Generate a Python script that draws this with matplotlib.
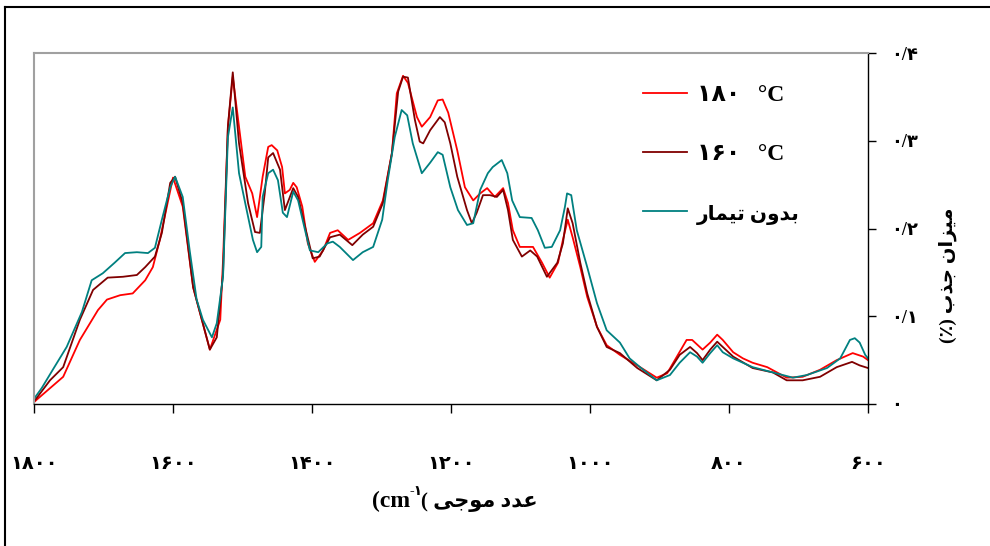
import matplotlib
matplotlib.use("Agg")
import matplotlib.pyplot as plt
from matplotlib.lines import Line2D

plt.rcParams["font.family"] = ["Liberation Serif", "DejaVu Sans"]
plt.rcParams["font.weight"] = "bold"

# ----------------------------
# Data
# ----------------------------
wn_180 = [1800, 1796, 1758, 1734, 1708, 1695, 1676, 1658, 1640, 1629, 1619, 1600, 1586, 1571,
          1547, 1532, 1528, 1521, 1514, 1496, 1486, 1479, 1471, 1463, 1458, 1450, 1443, 1439,
          1432, 1427, 1422, 1414, 1406, 1396, 1384, 1374, 1363, 1348, 1331, 1312, 1298, 1285,
          1278, 1269, 1262, 1249, 1242, 1230, 1219, 1212, 1204, 1191, 1180, 1168, 1158, 1148,
          1137, 1125, 1118, 1111, 1101, 1082, 1069, 1058, 1046, 1039, 1032, 1025, 1014, 1004,
          990, 976, 957, 932, 904, 889, 875, 861, 853, 838, 827, 817, 809, 794, 780, 766, 745,
          717, 694, 669, 645, 622, 607, 600]
ab_180 = [0.002, 0.005, 0.031, 0.073, 0.107, 0.119, 0.124, 0.126, 0.141, 0.156, 0.187, 0.258,
          0.225, 0.133, 0.062, 0.096, 0.164, 0.316, 0.373, 0.259, 0.240, 0.213, 0.259, 0.293,
          0.295, 0.289, 0.270, 0.240, 0.244, 0.252, 0.247, 0.225, 0.183, 0.162, 0.175, 0.195,
          0.198, 0.187, 0.195, 0.206, 0.232, 0.286, 0.354, 0.374, 0.366, 0.327, 0.316, 0.327,
          0.346, 0.347, 0.332, 0.289, 0.247, 0.232, 0.240, 0.246, 0.236, 0.246, 0.229, 0.198,
          0.179, 0.179, 0.161, 0.144, 0.161, 0.187, 0.210, 0.190, 0.156, 0.122, 0.088, 0.067,
          0.056, 0.044, 0.030, 0.035, 0.054, 0.073, 0.073, 0.062, 0.070, 0.079, 0.073, 0.059,
          0.052, 0.047, 0.042, 0.030, 0.031, 0.039, 0.050, 0.058, 0.054, 0.050]

wn_160 = [1800, 1796, 1777, 1758, 1734, 1715, 1694, 1672, 1652, 1640, 1626, 1616, 1604, 1597,
          1586, 1571, 1547, 1537, 1528, 1521, 1514, 1505, 1492, 1482, 1475, 1468, 1463, 1456,
          1446, 1439, 1427, 1420, 1410, 1399, 1389, 1374, 1360, 1342, 1327, 1312, 1298, 1285,
          1276, 1269, 1262, 1252, 1245, 1240, 1230, 1216, 1209, 1201, 1191, 1177, 1170, 1163,
          1154, 1144, 1134, 1125, 1118, 1111, 1098, 1086, 1076, 1062, 1047, 1039, 1032, 1025,
          1014, 1004, 990, 976, 957, 932, 904, 885, 871, 856, 846, 838, 827, 817, 809, 794,
          766, 737, 717, 694, 669, 645, 623, 612, 600]
ab_160 = [0.003, 0.007, 0.027, 0.042, 0.096, 0.130, 0.144, 0.145, 0.147, 0.156, 0.168, 0.195,
          0.252, 0.259, 0.229, 0.133, 0.062, 0.076, 0.149, 0.316, 0.378, 0.297, 0.229, 0.196,
          0.195, 0.240, 0.281, 0.286, 0.267, 0.221, 0.246, 0.236, 0.202, 0.166, 0.168, 0.190,
          0.193, 0.181, 0.193, 0.202, 0.229, 0.286, 0.356, 0.373, 0.372, 0.324, 0.299, 0.297,
          0.312, 0.327, 0.321, 0.297, 0.259, 0.221, 0.206, 0.218, 0.238, 0.238, 0.236, 0.244,
          0.221, 0.187, 0.168, 0.175, 0.168, 0.145, 0.161, 0.183, 0.223, 0.206, 0.161, 0.126,
          0.088, 0.065, 0.058, 0.041, 0.027, 0.039, 0.056, 0.065, 0.058, 0.050, 0.062, 0.071,
          0.065, 0.054, 0.041, 0.036, 0.027, 0.027, 0.031, 0.042, 0.048, 0.044, 0.041]

wn_raw = [1800, 1799, 1789, 1773, 1753, 1731, 1717, 1701, 1684, 1669, 1652, 1636, 1626, 1616,
          1604, 1597, 1586, 1576, 1566, 1557, 1544, 1537, 1528, 1521, 1514, 1505, 1494, 1485,
          1479, 1473, 1471, 1463, 1456, 1449, 1442, 1436, 1427, 1420, 1410, 1403, 1391, 1378,
          1370, 1360, 1341, 1327, 1312, 1299, 1291, 1281, 1271, 1263, 1255, 1242, 1230, 1219,
          1212, 1201, 1190, 1177, 1168, 1158, 1147, 1140, 1127, 1119, 1112, 1101, 1084, 1075,
          1065, 1055, 1043, 1036, 1033, 1027, 1019, 1004, 990, 976, 957, 943, 928, 904, 885,
          871, 856, 846, 838, 827, 817, 809, 794, 766, 737, 708, 688, 659, 640, 626, 619, 612,
          604, 600]
ab_raw = [0.005, 0.007, 0.018, 0.039, 0.065, 0.105, 0.141, 0.149, 0.161, 0.172, 0.173, 0.172,
          0.178, 0.210, 0.247, 0.259, 0.236, 0.175, 0.119, 0.096, 0.076, 0.092, 0.145, 0.304,
          0.338, 0.263, 0.221, 0.187, 0.173, 0.179, 0.236, 0.263, 0.267, 0.255, 0.218, 0.213,
          0.242, 0.232, 0.198, 0.175, 0.173, 0.183, 0.185, 0.179, 0.164, 0.173, 0.179, 0.210,
          0.255, 0.304, 0.335, 0.329, 0.297, 0.263, 0.275, 0.287, 0.284, 0.247, 0.221, 0.204,
          0.206, 0.244, 0.263, 0.270, 0.278, 0.263, 0.232, 0.213, 0.212, 0.198, 0.178, 0.179,
          0.198, 0.225, 0.240, 0.238, 0.198, 0.156, 0.115, 0.084, 0.070, 0.052, 0.042, 0.027,
          0.033, 0.047, 0.059, 0.054, 0.047, 0.058, 0.067, 0.059, 0.052, 0.042, 0.036, 0.030,
          0.033, 0.041, 0.052, 0.073, 0.075, 0.070, 0.056, 0.052]

x_ticks = [1800, 1600, 1400, 1200, 1000, 800, 600]
x_tick_labels = ["۱۸۰۰", "۱۶۰۰", "۱۴۰۰", "۱۲۰۰", "۱۰۰۰", "۸۰۰", "۶۰۰"]
y_ticks = [0, 0.1, 0.2, 0.3, 0.4]
y_tick_labels = ["۰", "۰/۱", "۰/۲", "۰/۳", "۰/۴"]

# Persian strings, pre-shaped (presentation forms, visual order)
label_180 = "۱۸۰   °C"
label_160 = "۱۶۰   °C"
label_raw = "\uFEAD\uFE8E\uFEE4\uFEF4\uFE97 \uFEE5\uFEED\uFEAA\uFE91"   # بدون تیمار
x_title_fa = "( \uFEF0\uFE9F\uFEEE\uFEE3 \uFEA9\uFEAA\uFECB"          # عدد موجی
y_title = "(\u066A) \uFE8F\uFEAC\uFE9F \uFEE5\uFE8D\uFEB0\uFEF4\uFEE3"  # میزان جذب (٪)

# ----------------------------
# Plot
# ----------------------------
fig = plt.figure(figsize=(9.9, 5.46), dpi=100)
ax = fig.add_axes([34 / 990, 1 - 404 / 546, 834 / 990, 351 / 546])

ax.plot(wn_180, ab_180, color="#ff0000", lw=1.3, label=label_180)
ax.plot(wn_160, ab_160, color="#800000", lw=1.3, label=label_160)
ax.plot(wn_raw, ab_raw, color="#008080", lw=1.3, label=label_raw)

ax.set_xlim(1800, 600)
ax.set_ylim(0, 0.4)

ax.yaxis.tick_right()
ax.set_xticks(x_ticks)
ax.set_xticklabels(x_tick_labels, fontsize=14)
ax.set_yticks(y_ticks)
ax.set_yticklabels(y_tick_labels, fontsize=13)
ax.tick_params(axis="x", direction="out", length=6.5, width=1, pad=31)
ax.tick_params(axis="y", direction="out", length=6, width=1, pad=11)

for side in ["top", "left"]:
    ax.spines[side].set_color("#a0a0a0")
    ax.spines[side].set_linewidth(1.5)
for side in ["right", "bottom"]:
    ax.spines[side].set_color("black")
    ax.spines[side].set_linewidth(1)

leg = ax.legend(loc="upper left", bbox_to_anchor=(0.730, 0.910), frameon=False,
                fontsize=17, handlelength=1.85, handletextpad=0.45, labelspacing=1.6,
                borderpad=0, borderaxespad=0)
leg.get_texts()[2].set_fontsize(14.5)

# axis titles
fig.text(410 / 990, 1 - 507 / 546, "(cm", fontsize=17, ha="right", va="baseline")
fig.text(410 / 990, 1 - 495 / 546, "-۱", fontsize=10, ha="left", va="baseline")
fig.text(421 / 990, 1 - 507 / 546, x_title_fa, fontsize=15, ha="left", va="baseline")
fig.text(948 / 990, 1 - 275 / 546, y_title, fontsize=14, rotation=90,
         ha="center", va="center")

# outer frame
fig.add_artist(Line2D([5 / 990, 5 / 990], [0, 1 - 7 / 546], color="black", lw=1.5,
                      transform=fig.transFigure))
fig.add_artist(Line2D([5 / 990, 1], [1 - 7 / 546, 1 - 7 / 546], color="black", lw=1.5,
                      transform=fig.transFigure))

fig.savefig("out.png", dpi=100)
